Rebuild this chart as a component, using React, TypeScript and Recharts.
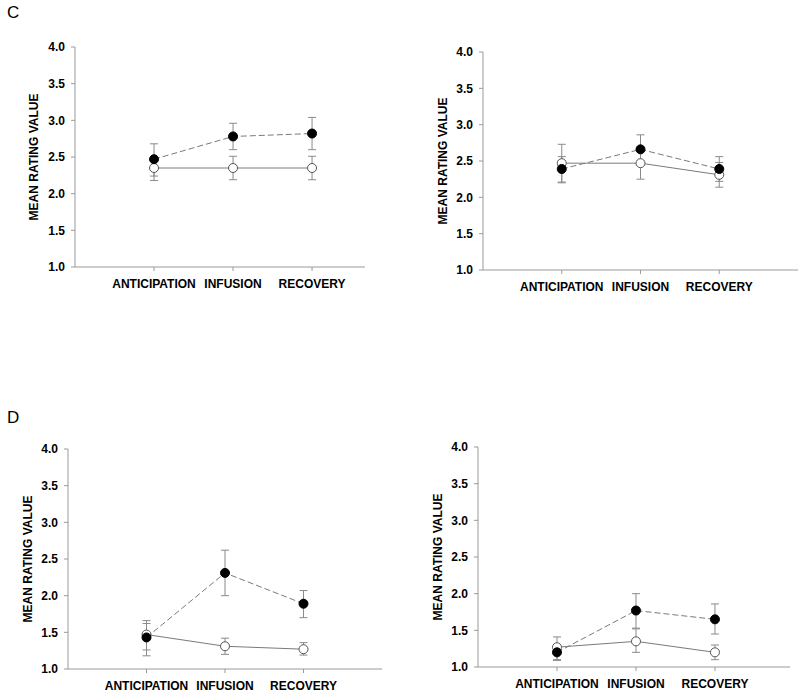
import React from 'react';
import { LineChart, Line, XAxis, YAxis, ErrorBar } from 'recharts';

const categories = ['ANTICIPATION', 'INFUSION', 'RECOVERY'];
const categoryX = [1, 2, 3];
const yTicks = [1.0, 1.5, 2.0, 2.5, 3.0, 3.5, 4.0];
const yTitle = 'MEAN RATING VALUE';

// Panel C, left
const cLeftFilled = [2.47, 2.78, 2.82];
const cLeftFilledLow = [2.24, 2.6, 2.6];
const cLeftFilledHigh = [2.68, 2.96, 3.04];
const cLeftOpen = [2.35, 2.35, 2.35];
const cLeftOpenLow = [2.18, 2.19, 2.19];
const cLeftOpenHigh = [2.5, 2.51, 2.51];

// Panel C, right
const cRightFilled = [2.39, 2.66, 2.39];
const cRightFilledLow = [2.21, 2.46, 2.22];
const cRightFilledHigh = [2.73, 2.86, 2.56];
const cRightOpen = [2.47, 2.47, 2.31];
const cRightOpenLow = [2.2, 2.25, 2.14];
const cRightOpenHigh = [2.56, 2.69, 2.48];

// Panel D, left
const dLeftFilled = [1.43, 2.31, 1.89];
const dLeftFilledLow = [1.26, 2.0, 1.7];
const dLeftFilledHigh = [1.66, 2.62, 2.07];
const dLeftOpen = [1.47, 1.31, 1.27];
const dLeftOpenLow = [1.18, 1.2, 1.19];
const dLeftOpenHigh = [1.62, 1.42, 1.36];

// Panel D, right
const dRightFilled = [1.2, 1.77, 1.65];
const dRightFilledLow = [1.1, 1.53, 1.45];
const dRightFilledHigh = [1.3, 2.0, 1.86];
const dRightOpen = [1.27, 1.35, 1.2];
const dRightOpenLow = [1.09, 1.2, 1.1];
const dRightOpenHigh = [1.41, 1.52, 1.3];

function buildRows(
  filled: number[], fLow: number[], fHigh: number[],
  open: number[], oLow: number[], oHigh: number[]
) {
  return categoryX.map((x, i) => ({
    x,
    filled: filled[i],
    filledErr: [filled[i] - fLow[i], fHigh[i] - filled[i]],
    open: open[i],
    openErr: [open[i] - oLow[i], oHigh[i] - open[i]],
  }));
}

const FONT = 'Arial, "Liberation Sans", Helvetica, sans-serif';
const AXIS = '#9a9a9a';
const LINE = '#7a7a7a';
const ERR = '#8a8a8a';

type PanelProps = {
  left: number;
  top: number;
  width: number;
  height: number;
  margin: { top: number; right: number; bottom: number; left: number };
  yWidth: number;
  xHeight: number;
  xMax: number;
  titleX: number;
  rows: any[];
};

function Panel(p: PanelProps) {
  const tickStyle = { fontSize: 12, fontWeight: 'bold', fill: '#000', fontFamily: FONT };
  return (
    <div style={{ position: 'absolute', left: p.left, top: p.top }}>
      <LineChart width={p.width} height={p.height} data={p.rows} margin={p.margin}>
        <XAxis
          type="number"
          dataKey="x"
          domain={[0, p.xMax]}
          ticks={categoryX}
          interval={0}
          tickFormatter={(v: number) => categories[v - 1] ?? ''}
          tick={tickStyle}
          tickSize={4}
          tickMargin={8}
          height={p.xHeight}
          stroke={AXIS}
          allowDataOverflow
        />
        <YAxis
          type="number"
          domain={[1, 4]}
          ticks={yTicks}
          interval={0}
          tickFormatter={(v: number) => v.toFixed(1)}
          tick={tickStyle}
          tickSize={4}
          tickMargin={6}
          width={p.yWidth}
          stroke={AXIS}
          allowDataOverflow
          label={{
            value: yTitle,
            angle: -90,
            position: 'insideLeft',
            offset: p.titleX,
            style: { textAnchor: 'middle', fontSize: 12, fontWeight: 'bold', fill: '#000', fontFamily: FONT },
          }}
        />
        <Line
          dataKey="open"
          stroke={LINE}
          strokeWidth={1}
          isAnimationActive={false}
          dot={{ r: 4.5, fill: '#fff', stroke: '#555', strokeWidth: 1 }}
          activeDot={false}
        >
          <ErrorBar dataKey="openErr" direction="y" width={4} stroke={ERR} strokeWidth={1} />
        </Line>
        <Line
          dataKey="filled"
          stroke={LINE}
          strokeWidth={1}
          strokeDasharray="6 3"
          isAnimationActive={false}
          dot={{ r: 4.5, fill: '#000', stroke: '#000', strokeWidth: 1, strokeDasharray: '' }}
          activeDot={false}
        >
          <ErrorBar dataKey="filledErr" direction="y" width={4} stroke={ERR} strokeWidth={1} />
        </Line>
      </LineChart>
    </div>
  );
}

export default function App() {
  return (
    <div
      style={{
        position: 'absolute',
        left: 0,
        top: 0,
        width: 800,
        height: 696,
        background: '#fff',
        fontFamily: FONT,
        overflow: 'hidden',
      }}
    >
      <div style={{ position: 'absolute', left: 7, top: 3, fontSize: 17, lineHeight: '20px', fontFamily: FONT }}>C</div>
      <div style={{ position: 'absolute', left: 7, top: 408, fontSize: 17, lineHeight: '20px', fontFamily: FONT }}>D</div>

      <Panel
        left={0}
        top={0}
        width={400}
        height={348}
        margin={{ top: 47, right: 35, bottom: 51, left: 0 }}
        yWidth={75}
        xHeight={30}
        xMax={3.67}
        titleX={34}
        rows={buildRows(cLeftFilled, cLeftFilledLow, cLeftFilledHigh, cLeftOpen, cLeftOpenLow, cLeftOpenHigh)}
      />
      <Panel
        left={400}
        top={0}
        width={400}
        height={348}
        margin={{ top: 52, right: 2, bottom: 48, left: 0 }}
        yWidth={83}
        xHeight={30}
        xMax={4.0}
        titleX={43}
        rows={buildRows(cRightFilled, cRightFilledLow, cRightFilledHigh, cRightOpen, cRightOpenLow, cRightOpenHigh)}
      />
      <Panel
        left={0}
        top={348}
        width={400}
        height={348}
        margin={{ top: 101, right: 18, bottom: 7, left: 0 }}
        yWidth={68}
        xHeight={20}
        xMax={4.0}
        titleX={28}
        rows={buildRows(dLeftFilled, dLeftFilledLow, dLeftFilledHigh, dLeftOpen, dLeftOpenLow, dLeftOpenHigh)}
      />
      <Panel
        left={400}
        top={348}
        width={400}
        height={348}
        margin={{ top: 99, right: 10, bottom: 9, left: 0 }}
        yWidth={78}
        xHeight={20}
        xMax={3.95}
        titleX={38}
        rows={buildRows(dRightFilled, dRightFilledLow, dRightFilledHigh, dRightOpen, dRightOpenLow, dRightOpenHigh)}
      />
    </div>
  );
}
